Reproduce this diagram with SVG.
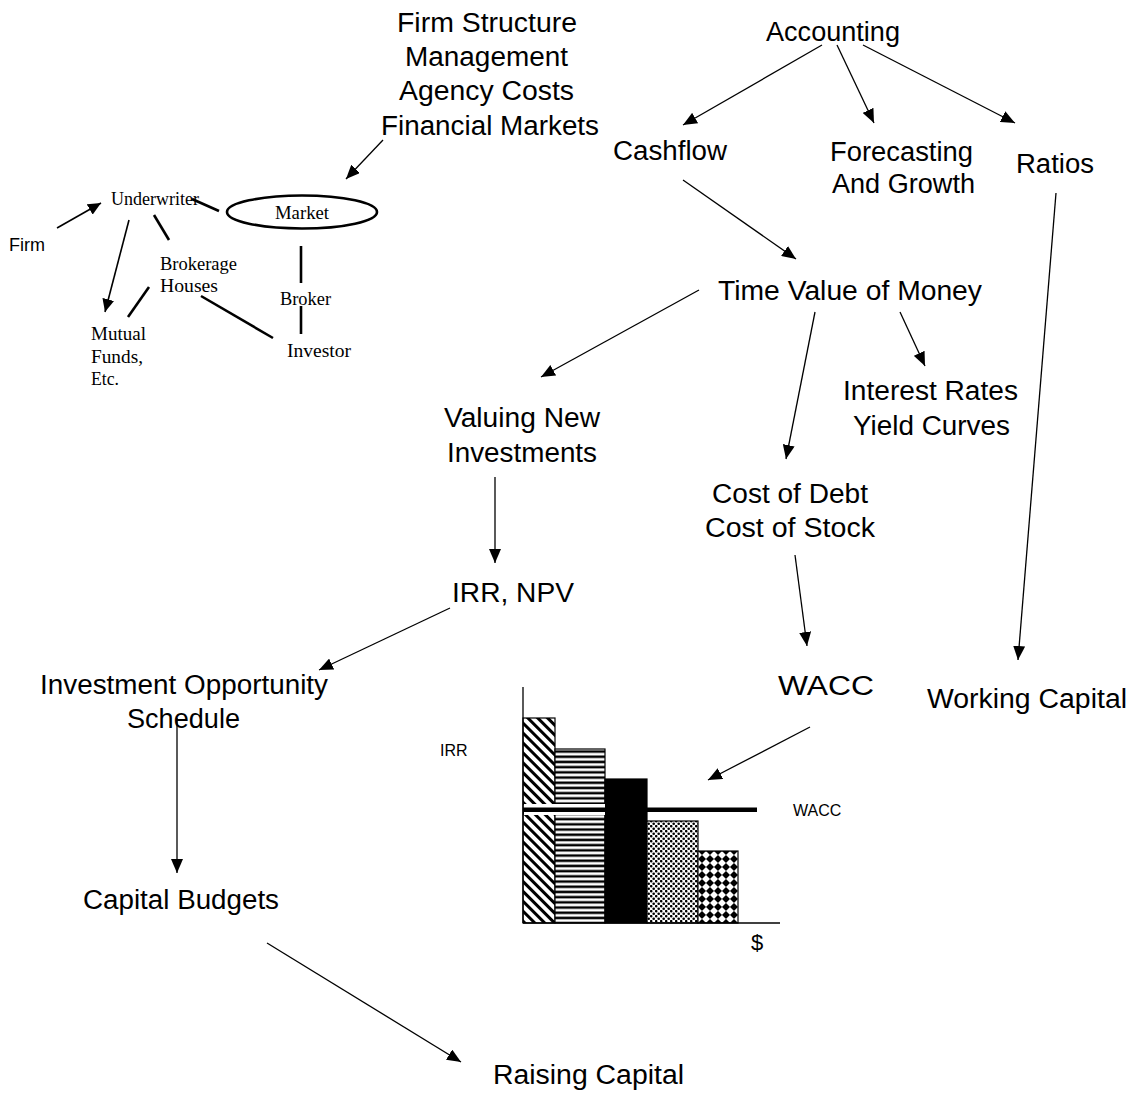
<svg xmlns="http://www.w3.org/2000/svg" width="1139" height="1093" viewBox="0 0 1139 1093">
<style>
.t{font-family:"Liberation Sans",Arial,sans-serif;font-size:27px;fill:#000}
.s{font-family:"Liberation Serif","Times New Roman",serif;font-size:18.5px;fill:#000}
.a{font-family:"Liberation Sans",Arial,sans-serif;fill:#000}
.c{stroke:#000;stroke-width:1.3;fill:none}
.arr{marker-end:url(#ah)}
.thick{stroke:#000;stroke-width:2.6;fill:none}
.bar{stroke:#000;stroke-width:1.2}
</style>
<defs>
<marker id="ah" markerUnits="userSpaceOnUse" markerWidth="15" markerHeight="12" refX="14" refY="6" orient="auto">
<path d="M0,0 L14,6 L0,12 z" fill="#000"/>
</marker>
<marker id="ahs" markerUnits="userSpaceOnUse" markerWidth="14" markerHeight="12" refX="13" refY="6" orient="auto">
<path d="M0,0 L13,6 L0,12 z" fill="#000"/>
</marker>
<pattern id="diag" patternUnits="userSpaceOnUse" width="7" height="7" patternTransform="rotate(45)">
<rect width="7" height="7" fill="#fff"/><rect width="7" height="3" fill="#000"/>
</pattern>
<pattern id="hor" patternUnits="userSpaceOnUse" x="0" y="749" width="6" height="5.2">
<rect width="6" height="5.2" fill="#fff"/><rect y="1.3" width="6" height="2.5" fill="#000"/>
</pattern>
<pattern id="dots" patternUnits="userSpaceOnUse" width="5" height="5">
<rect width="5" height="5" fill="#fff"/><circle cx="1.2" cy="1.2" r="1.3" fill="#000"/><circle cx="3.7" cy="3.7" r="1.3" fill="#000"/>
</pattern>
<pattern id="chk" patternUnits="userSpaceOnUse" x="0" y="0" width="11.3" height="11.3" patternTransform="translate(702,855) rotate(45)">
<rect width="11.3" height="11.3" fill="#fff"/><rect width="5.65" height="5.65" fill="#000"/><rect x="5.65" y="5.65" width="5.65" height="5.65" fill="#000"/>
</pattern>
</defs>
<rect width="1139" height="1093" fill="#fff"/>

<g id="connectors">
<line class="c arr" x1="383" y1="140" x2="346" y2="179"/>
<line class="c arr" x1="822" y1="45" x2="683" y2="125"/>
<line class="c arr" x1="837" y1="45" x2="874" y2="123"/>
<line class="c arr" x1="863" y1="45" x2="1015" y2="123"/>
<line class="c arr" x1="683" y1="180" x2="796" y2="259"/>
<line class="c arr" x1="699" y1="290" x2="541" y2="377"/>
<line class="c arr" x1="815" y1="312" x2="786" y2="459"/>
<line class="c arr" x1="900" y1="312" x2="925" y2="366"/>
<line class="c arr" x1="1056" y1="193" x2="1018" y2="660"/>
<line class="c arr" x1="495" y1="477" x2="495" y2="563"/>
<line class="c arr" x1="795" y1="555" x2="807" y2="646"/>
<line class="c arr" x1="450" y1="608" x2="319" y2="670"/>
<line class="c arr" x1="177" y1="718" x2="177" y2="873"/>
<line class="c arr" x1="267" y1="943" x2="461" y2="1062"/>
<line class="c arr" x1="810" y1="727" x2="708" y2="780"/>
<!-- cluster -->
<line class="c" style="stroke-width:1.6;marker-end:url(#ahs)" x1="57" y1="228" x2="101" y2="203"/>
<line class="c" style="stroke-width:1.6;marker-end:url(#ahs)" x1="129" y1="220" x2="105" y2="312"/>
<line class="thick" x1="192" y1="199" x2="219" y2="211"/>
<line class="thick" x1="154" y1="215" x2="169" y2="240"/>
<line class="thick" x1="149" y1="287" x2="128" y2="317"/>
<line class="thick" x1="201" y1="296" x2="273" y2="338"/>
<line class="thick" x1="301" y1="246" x2="301" y2="283"/>
<line class="thick" x1="301" y1="306" x2="301" y2="334"/>
</g>

<g id="firm-structure">
<text class="t" x="397" y="32" textLength="180" lengthAdjust="spacingAndGlyphs">Firm Structure</text>
<text class="t" x="405" y="66" textLength="163" lengthAdjust="spacingAndGlyphs">Management</text>
<text class="t" x="399" y="100" textLength="175" lengthAdjust="spacingAndGlyphs">Agency Costs</text>
<text class="t" x="381" y="135" textLength="218" lengthAdjust="spacingAndGlyphs">Financial Markets</text>
</g>
<g id="accounting"><text class="t" x="766" y="41" textLength="134" lengthAdjust="spacingAndGlyphs">Accounting</text></g>
<g id="cashflow"><text class="t" x="613" y="160" textLength="114" lengthAdjust="spacingAndGlyphs">Cashflow</text></g>
<g id="forecasting">
<text class="t" x="830" y="161" textLength="143" lengthAdjust="spacingAndGlyphs">Forecasting</text>
<text class="t" x="832" y="193" textLength="143" lengthAdjust="spacingAndGlyphs">And Growth</text>
</g>
<g id="ratios"><text class="t" x="1016" y="173" textLength="78" lengthAdjust="spacingAndGlyphs">Ratios</text></g>
<g id="tvm"><text class="t" x="718" y="300" textLength="264" lengthAdjust="spacingAndGlyphs">Time Value of Money</text></g>
<g id="interest-rates">
<text class="t" x="843" y="400" textLength="175" lengthAdjust="spacingAndGlyphs">Interest Rates</text>
<text class="t" x="853" y="435" textLength="157" lengthAdjust="spacingAndGlyphs">Yield Curves</text>
</g>
<g id="valuing">
<text class="t" x="444" y="427" textLength="156" lengthAdjust="spacingAndGlyphs">Valuing New</text>
<text class="t" x="447" y="462" textLength="150" lengthAdjust="spacingAndGlyphs">Investments</text>
</g>
<g id="cost">
<text class="t" x="712" y="503" textLength="156" lengthAdjust="spacingAndGlyphs">Cost of Debt</text>
<text class="t" x="705" y="537" textLength="170" lengthAdjust="spacingAndGlyphs">Cost of Stock</text>
</g>
<g id="irr-npv"><text class="t" x="452" y="602" textLength="122" lengthAdjust="spacingAndGlyphs">IRR, NPV</text></g>
<g id="ios">
<text class="t" x="40" y="694" textLength="288" lengthAdjust="spacingAndGlyphs">Investment Opportunity</text>
<text class="t" x="127" y="728" textLength="113" lengthAdjust="spacingAndGlyphs">Schedule</text>
</g>
<g id="wacc"><text class="t" x="778" y="695" textLength="96" lengthAdjust="spacingAndGlyphs">WACC</text></g>
<g id="working-capital"><text class="t" x="927" y="708" textLength="200" lengthAdjust="spacingAndGlyphs">Working Capital</text></g>
<g id="capital-budgets"><text class="t" x="83" y="909" textLength="196" lengthAdjust="spacingAndGlyphs">Capital Budgets</text></g>
<g id="raising-capital"><text class="t" x="493" y="1084" textLength="191" lengthAdjust="spacingAndGlyphs">Raising Capital</text></g>

<g id="market-cluster">
<text class="a" x="9" y="251" font-size="18">Firm</text>
<text class="s" x="111" y="205" textLength="88" lengthAdjust="spacingAndGlyphs">Underwriter</text>
<ellipse cx="302" cy="212" rx="75" ry="16.5" fill="none" stroke="#000" stroke-width="2.6"/>
<text class="s" x="275" y="219" textLength="54" lengthAdjust="spacingAndGlyphs">Market</text>
<text class="s" x="160" y="270" textLength="77" lengthAdjust="spacingAndGlyphs">Brokerage</text>
<text class="s" x="160" y="292" textLength="58" lengthAdjust="spacingAndGlyphs">Houses</text>
<text class="s" x="280" y="305" textLength="51" lengthAdjust="spacingAndGlyphs">Broker</text>
<text class="s" x="287" y="357" textLength="64" lengthAdjust="spacingAndGlyphs">Investor</text>
<text class="s" x="91" y="340" textLength="55" lengthAdjust="spacingAndGlyphs">Mutual</text>
<text class="s" x="91" y="363" textLength="52" lengthAdjust="spacingAndGlyphs">Funds,</text>
<text class="s" x="91" y="385" textLength="28" lengthAdjust="spacingAndGlyphs">Etc.</text>
</g>

<g id="irr-chart">
<rect class="bar" x="523" y="718" width="32" height="205" fill="url(#diag)"/>
<rect class="bar" x="555" y="749" width="50" height="174" fill="url(#hor)"/>
<rect class="bar" x="605" y="779" width="42" height="144" fill="#000"/>
<rect class="bar" x="647" y="821" width="51" height="102" fill="url(#dots)"/>
<rect class="bar" x="698" y="851" width="40" height="72" fill="url(#chk)"/>
<rect x="524" y="804" width="81" height="11" fill="#fff"/>
<rect x="523" y="807.5" width="234" height="4.5" fill="#000"/>
<line class="c" x1="523" y1="687" x2="523" y2="923"/>
<line class="c" x1="523" y1="923" x2="780" y2="923"/>
<text class="a" x="440" y="756" font-size="16">IRR</text>
<text class="a" x="793" y="816" font-size="16">WACC</text>
<text class="a" x="751" y="950" font-size="22">$</text>
</g>
</svg>
